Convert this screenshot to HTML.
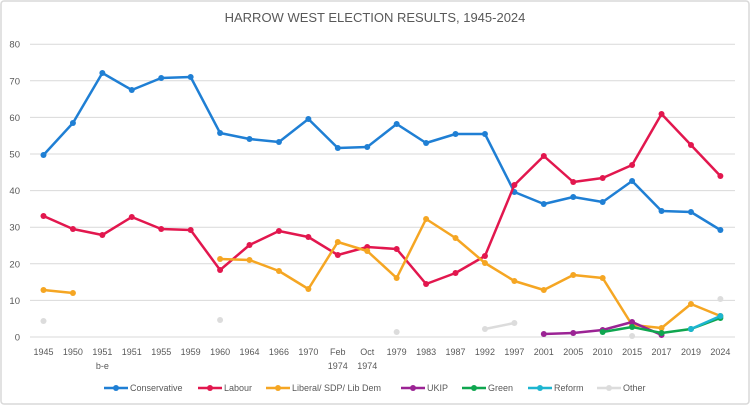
<!DOCTYPE html><html><head><style>body{margin:0;background:#fff}svg{display:block;font-family:"Liberation Sans",sans-serif}</style></head><body>
<svg width="750" height="405" xmlns="http://www.w3.org/2000/svg">
<rect x="1" y="1" width="748" height="403" fill="#fff" stroke="#d9d9d9" stroke-width="1.5" rx="3"/>
<text x="375" y="22" text-anchor="middle" font-size="13" fill="#595959">HARROW WEST ELECTION RESULTS, 1945-2024</text>
<g id="grid" stroke="#d9d9d9" stroke-width="1"></g>
<g id="yl" font-size="9.5" fill="#595959" text-anchor="end"></g>
<g id="xl" font-size="9" fill="#595959" text-anchor="middle"></g>
<g id="series"></g>
<g font-size="9" fill="#595959">
<line x1="104" y1="388" x2="128" y2="388" stroke="#1f7fd4" stroke-width="2.5"/><circle cx="116" cy="388" r="3" fill="#1f7fd4"/><text x="130" y="391">Conservative</text>
<line x1="198" y1="388" x2="222" y2="388" stroke="#e2174e" stroke-width="2.5"/><circle cx="210" cy="388" r="3" fill="#e2174e"/><text x="224" y="391">Labour</text>
<line x1="266" y1="388" x2="290" y2="388" stroke="#f5a623" stroke-width="2.5"/><circle cx="278" cy="388" r="3" fill="#f5a623"/><text x="292" y="391">Liberal/ SDP/ Lib Dem</text>
<line x1="401" y1="388" x2="425" y2="388" stroke="#9b2394" stroke-width="2.5"/><circle cx="413" cy="388" r="3" fill="#9b2394"/><text x="427" y="391">UKIP</text>
<line x1="462" y1="388" x2="486" y2="388" stroke="#0fa64f" stroke-width="2.5"/><circle cx="474" cy="388" r="3" fill="#0fa64f"/><text x="488" y="391">Green</text>
<line x1="528" y1="388" x2="552" y2="388" stroke="#1db5d0" stroke-width="2.5"/><circle cx="540" cy="388" r="3" fill="#1db5d0"/><text x="554" y="391">Reform</text>
<line x1="597" y1="388" x2="621" y2="388" stroke="#dcdcdc" stroke-width="2.5"/><circle cx="609" cy="388" r="3" fill="#dcdcdc"/><text x="623" y="391">Other</text>
</g>
<script>
var ns="http://www.w3.org/2000/svg";
function el(p,t,a,tx){var e=document.createElementNS(ns,t);for(var k in a)e.setAttribute(k,a[k]);if(tx)e.textContent=tx;document.getElementById(p).appendChild(e);}
for(var k=0;k<=8;k++){var y=337-k*36.6;el("grid","line",{x1:30,x2:735,y1:y,y2:y});el("yl","text",{x:20,y:y+3.5},String(k*10));}
var labs=[["1945"],["1950"],["1951","b-e"],["1951"],["1955"],["1959"],["1960"],["1964"],["1966"],["1970"],["Feb","1974"],["Oct","1974"],["1979"],["1983"],["1987"],["1992"],["1997"],["2001"],["2005"],["2010"],["2015"],["2017"],["2019"],["2024"]];
function X(i){return 43.5+i*29.43;}
labs.forEach(function(l,i){el("xl","text",{x:X(i),y:355},l[0]);if(l[1])el("xl","text",{x:X(i),y:369},l[1]);});
var N=null;
var S=[
["#dcdcdc",[321,N,N,N,N,N,320,N,N,N,N,N,332,N,N,329,323,N,333,N,336,N,N,299]],
["#1f7fd4",[155,123,73,90,78,77,133,139,142,119,148,147,124,143,134,134,192,204,197,202,181,211,212,230]],
["#e2174e",[216,229,235,217,229,230,270,245,231,237,255,247,249,284,273,256,185,156,182,178,165,114,145,176]],
["#f5a623",[290,293,N,N,N,N,259,260,271,289,242,251,278,219,238,263,281,290,275,278,325,328,304,316]],
["#9b2394",[N,N,N,N,N,N,N,N,N,N,N,N,N,N,N,N,N,334,333,330,322,335,N,N]],
["#0fa64f",[N,N,N,N,N,N,N,N,N,N,N,N,N,N,N,N,N,N,N,332,327,333,329,318]],
["#1db5d0",[N,N,N,N,N,N,N,N,N,N,N,N,N,N,N,N,N,N,N,N,N,N,329,316]]];
S.forEach(function(s){var d="",prev=false;s[1].forEach(function(v,i){if(v===N){prev=false;return;}d+=(prev?"L":"M")+X(i)+" "+v;prev=true;});
el("series","path",{d:d,fill:"none",stroke:s[0],"stroke-width":2.5,"stroke-linejoin":"round"});
s[1].forEach(function(v,i){if(v!==N)el("series","circle",{cx:X(i),cy:v,r:3,fill:s[0]});});});
</script>
</svg></body></html>
